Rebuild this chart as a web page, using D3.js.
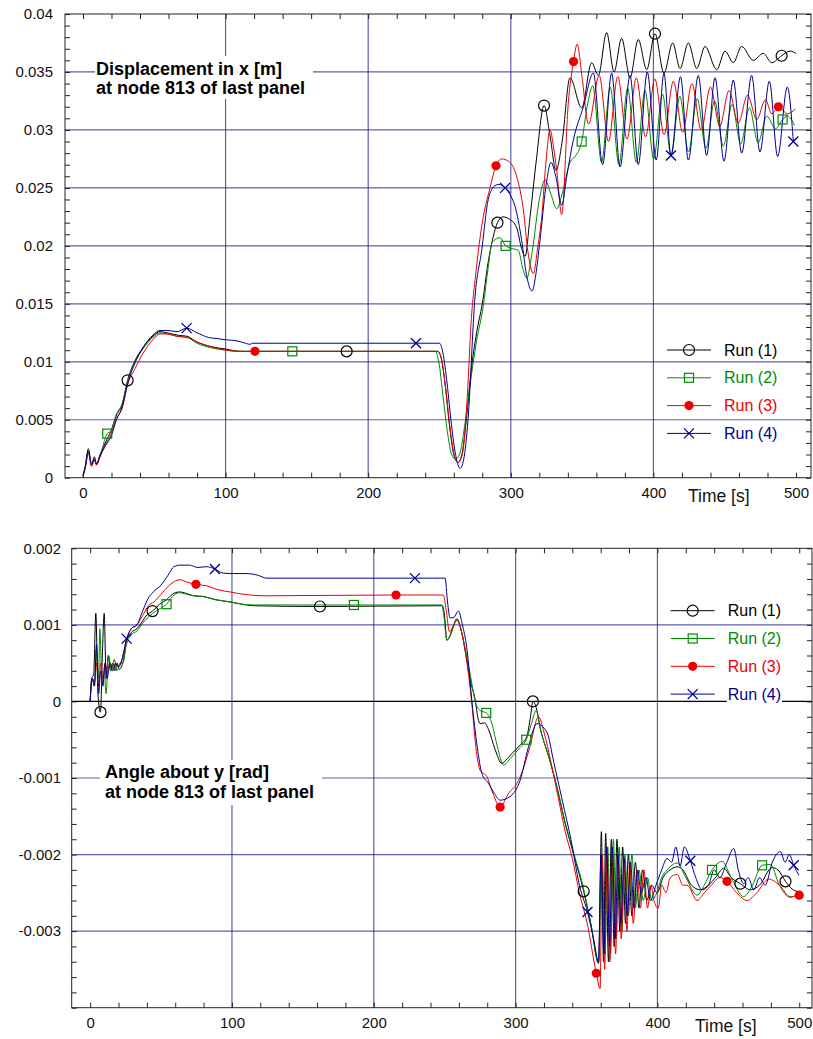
<!DOCTYPE html>
<html>
<head>
<meta charset="utf-8">
<script src="https://cdn.jsdelivr.net/npm/d3@7"></script>
<style>
  body { margin: 0; background: #fff; }
  svg { display: block; font-family: "Liberation Sans", Arial, Helvetica, sans-serif; }
</style>
</head>
<body>
<svg id="chart" width="813" height="1039"></svg>
<script>
// runs shared by both panels
const runNames = ["Run (1)", "Run (2)", "Run (3)", "Run (4)"];
const runColors = ["#000000", "#008a00", "#ee0000", "#000090"];
const runMarkers = ["circle", "square", "dot", "cross"];

const timeTicks = [0, 100, 200, 300, 400, 500];
const timeGrid = [100, 200, 300, 400];
const dispTicks = [0, 0.005, 0.01, 0.015, 0.02, 0.025, 0.03, 0.035, 0.04];
const angleTicks = [-0.003, -0.002, -0.001, 0, 0.001, 0.002];

// displacement in x [m], [time, value]
const dispRun1 = [[0,0.0002],[1.5,0.0009],[3.8,0.0025],[6,0.0011],[8,0.0018],[9.5,0.0012],[12,0.0020],[16,0.0031],[19.5,0.0040],[23.5,0.0054],[27.5,0.0063],[31.3,0.0084],[36.5,0.0101],[42,0.0112],[49,0.0122],[54,0.0126],[59,0.0125],[66,0.0123],[73,0.0122],[80,0.0117],[90,0.0113],[100,0.0111],[110,0.0109],[125,0.0109],[184.9,0.0109],[248.5,0.0109],[251,0.0104],[254,0.0080],[257,0.0045],[260,0.0020],[263,0.0013],[266,0.0022],[269,0.0052],[272,0.0090],[276,0.0125],[280,0.0150],[284,0.0185],[287.7,0.0208],[290.6,0.0220],[294.5,0.0225],[299,0.0223],[304,0.0216],[307.5,0.0198],[310,0.0191],[313.5,0.0225],[318,0.0275],[323.3,0.0321],[327.5,0.0295],[331.7,0.0265],[336,0.0290],[341.5,0.0345],[349.7,0.0319],[356.7,0.0358],[361.4,0.0347],[367.2,0.0384],[372.4,0.0350],[377.7,0.0379],[383.6,0.0345],[389.4,0.0378],[395.3,0.0352],[401.1,0.0383],[407.4,0.0349],[413.5,0.0375],[418.7,0.0353],[424.5,0.0375],[430.4,0.0353],[436.2,0.0372],[444.4,0.0352],[450.2,0.0368],[456,0.0358],[461.9,0.0372],[470,0.0360],[477,0.0366],[483,0.0358],[489.9,0.0364],[495.8,0.0368],[500,0.0366]];
const dispRun2 = [[0,0.0001],[1.5,0.0007],[3.8,0.0021],[6,0.0010],[8,0.0015],[9.5,0.0011],[12,0.0019],[17,0.0038],[19.5,0.0040],[23.5,0.0055],[27.5,0.0064],[31.3,0.0083],[36.5,0.0100],[42,0.0111],[49,0.0121],[54,0.0125],[59,0.0124],[66,0.0122],[73,0.0121],[80,0.0116],[90,0.0112],[100,0.0110],[110,0.0109],[125,0.0109],[146.8,0.0109],[247,0.0109],[249.5,0.0100],[252.5,0.0070],[255.5,0.0040],[258.5,0.0020],[261.5,0.0016],[264.5,0.0022],[268,0.0048],[272,0.0085],[276,0.0118],[280.7,0.0148],[284,0.0180],[287,0.0203],[292.4,0.0207],[296.4,0.0200],[300,0.0198],[305.3,0.0196],[308.5,0.0180],[311.2,0.0172],[315,0.0195],[320,0.0240],[324,0.0257],[328,0.0245],[332.2,0.0232],[336,0.0245],[341.5,0.0272],[345,0.0277],[349.7,0.0290],[353.5,0.0320],[357.5,0.0338],[363.6,0.0272],[369.7,0.0337],[375.8,0.0270],[381.9,0.0336],[388,0.0272],[394.1,0.0334],[400.2,0.0275],[406.3,0.0331],[412.4,0.0278],[418.5,0.0329],[424.6,0.0281],[430.7,0.0327],[436.8,0.0284],[442.9,0.0325],[449,0.0286],[455.1,0.0322],[461.2,0.0288],[467.3,0.0319],[473.4,0.0289],[479.5,0.0312],[485.6,0.0301],[490.6,0.0309],[494,0.0312],[499,0.0304]];
const dispRun3 = [[0,0.0001],[1.5,0.0008],[3.8,0.0022],[6,0.0010],[8,0.0016],[9.5,0.0011],[12,0.0018],[16,0.0029],[19.5,0.0037],[23.5,0.0051],[27.5,0.0060],[31.3,0.0080],[36.5,0.0094],[42,0.0107],[49,0.0119],[54,0.0124],[59,0.0124],[66,0.0122],[73,0.0121],[80,0.0117],[90,0.0113],[100,0.0110],[110,0.0109],[120.6,0.0109],[249,0.0109],[251.5,0.0102],[254.5,0.0075],[257.5,0.0042],[260.5,0.0019],[263,0.0013],[266,0.0020],[269,0.0060],[272.6,0.0142],[274.9,0.0170],[279.6,0.0217],[285.4,0.0250],[289.6,0.0269],[293.6,0.0275],[298.3,0.0273],[304.1,0.0260],[308.8,0.0231],[312,0.0195],[315.8,0.0176],[319,0.0200],[321.7,0.0225],[324.5,0.0270],[327.5,0.0300],[330,0.0285],[332.2,0.0265],[335.7,0.0227],[340.3,0.0323],[344,0.0359],[346.5,0.0374],[350,0.0345],[354.5,0.0305],[362,0.0347],[368.5,0.0290],[375,0.0346],[381.5,0.0292],[388,0.0345],[394.5,0.0294],[401,0.0344],[407.5,0.0296],[414,0.0342],[420.5,0.0298],[427,0.0340],[433.5,0.0300],[440,0.0337],[446.5,0.0303],[453,0.0334],[459.5,0.0306],[466,0.0330],[472.5,0.0309],[478.5,0.0326],[483,0.0314],[487.6,0.0320],[494,0.0314],[499.5,0.0318]];
const dispRun4 = [[0,0.0002],[1.5,0.0009],[3.8,0.0023],[6,0.0012],[8,0.0016],[9.5,0.0012],[12,0.0019],[16,0.0028],[19.5,0.0035],[23.5,0.0050],[27.5,0.0061],[31.3,0.0081],[36.5,0.0099],[42,0.0112],[49,0.0123],[54,0.0127],[59,0.0127],[66,0.0126],[72.7,0.0129],[80,0.0125],[88,0.0121],[94,0.0120],[100,0.0119],[108,0.0118],[114,0.0116],[117,0.0115],[119,0.0116],[233.5,0.0116],[250,0.0116],[252,0.0110],[255,0.0085],[258,0.0050],[261,0.0022],[264.5,0.0008],[267,0.0016],[270,0.0050],[274.9,0.0156],[279.6,0.0196],[284.2,0.0240],[288.9,0.0252],[291.5,0.0253],[296,0.0250],[300,0.0243],[303,0.0234],[307.6,0.0205],[311,0.0175],[315,0.0161],[317.5,0.0175],[320.5,0.0205],[324.5,0.0250],[328.2,0.0272],[331.5,0.0260],[335.7,0.0235],[339.5,0.0262],[343.8,0.0291],[350.9,0.0320],[357.9,0.0349],[364.4,0.0270],[370.7,0.0349],[376.6,0.0268],[383.6,0.0347],[389.4,0.0270],[395.7,0.0350],[402,0.0274],[407.4,0.0349],[412.3,0.0278],[419,0.0346],[424.5,0.0274],[431.5,0.0347],[437.3,0.0278],[443.2,0.0345],[449.5,0.0273],[456,0.0343],[461.9,0.0280],[468.9,0.0347],[474.7,0.0281],[481.3,0.0342],[487.1,0.0277],[493.9,0.0337],[498.1,0.0290]];
// times where a symbol sits on each run
const dispMarks1 = [31.3, 184.9, 290.6, 323.3, 401.1, 489.9];
const dispMarks2 = [17, 146.8, 296.4, 349.7, 490.6];
const dispMarks3 = [120.6, 289.6, 344, 487.6];
const dispMarks4 = [72.7, 233.5, 296, 412.3, 498.1];

// angle about y [rad], [time, value]
const angRun1 = [[0,0],[1,0.0003],[2.5,0.00035],[4,0.00115],[5.5,0.0001],[7.3,-0.00014],[8.6,0.0006],[9.9,0.00115],[11.3,0.0003],[12.8,0.0006],[14.5,0.0004],[16,0.0005],[17.5,0.0004],[19,0.0005],[20.5,0.00042],[23,0.0005],[25.7,0.0008],[29,0.0009],[33,0.00095],[37,0.00105],[40,0.00113],[44,0.00118],[49,0.00127],[54,0.00133],[58,0.0014],[63,0.00143],[68,0.00141],[73,0.00138],[80,0.00137],[88,0.00133],[98.6,0.0013],[107,0.00127],[115,0.00125],[162,0.00124],[248.5,0.00125],[250,0.0011],[251.5,0.0008],[253.5,0.00085],[256,0.00098],[258.6,0.00108],[262,0.0009],[265,0.0006],[268,0.00028],[271.5,0.00002],[273.5,-0.00022],[275,-0.00029],[278,-0.00028],[281,-0.00037],[285.6,-0.00063],[290.3,-0.00081],[294,-0.00075],[297.4,-0.00068],[303.2,-0.00057],[307.9,-0.00046],[310.5,-0.0002],[312.2,0.0],[314,-0.00005],[318,-0.0004],[323,-0.0007],[329,-0.00111],[335,-0.0016],[341,-0.002],[348,-0.00248],[353,-0.0029],[358.5,-0.00342],[360.5,-0.0017],[362,-0.0034],[363.5,-0.00172],[365.5,-0.0034],[367.5,-0.0018],[369.5,-0.0032],[371.5,-0.0018],[373.5,-0.003],[375.5,-0.0019],[377.5,-0.0029],[379.5,-0.002],[382,-0.0028],[384.5,-0.0021],[387,-0.0027],[389.5,-0.0022],[392.5,-0.0026],[396,-0.0024],[399.7,-0.0025],[404,-0.0023],[409,-0.0022],[413.9,-0.00216],[418,-0.0022],[424,-0.0024],[430.3,-0.00246],[436,-0.0024],[441,-0.0023],[446.7,-0.00218],[452,-0.0023],[458.5,-0.00238],[465.6,-0.00246],[472,-0.0024],[480.9,-0.00217],[485,-0.0022],[490.3,-0.00235],[495,-0.00245],[499.7,-0.00249]];
const angRun2 = [[0,0],[1.5,0.0003],[3,0.0002],[4.5,0.0007],[6,0.0003],[6.8,0.00095],[8.5,0.0002],[10,0.0004],[11.2,0.0001],[13,0.0006],[15,0.0004],[17,0.00055],[19,0.0004],[21,0.0005],[23,0.0005],[25.7,0.00075],[29,0.00087],[33,0.00092],[37,0.00102],[44,0.00115],[50,0.00122],[53.9,0.00127],[58,0.00137],[63,0.00142],[68,0.0014],[73,0.00138],[80,0.00137],[88,0.00133],[98.6,0.0013],[107,0.00127],[115,0.00126],[186,0.00126],[248,0.00126],[249.5,0.0011],[251.5,0.0008],[254,0.00086],[258.6,0.00107],[262,0.0009],[265.5,0.0006],[268.5,0.0003],[271.5,0.0],[275,-0.00012],[279.3,-0.00015],[283.3,-0.00029],[287,-0.00058],[291.5,-0.00083],[296,-0.00075],[303.2,-0.0006],[307.5,-0.0005],[311,-0.0003],[314.5,-0.00012],[318,-0.0004],[323,-0.0007],[329,-0.0011],[335,-0.00158],[341,-0.00198],[348,-0.00245],[353,-0.0029],[358.5,-0.0034],[361,-0.002],[363,-0.0033],[365,-0.0019],[367,-0.0033],[369,-0.0018],[371,-0.0031],[373,-0.0019],[375,-0.003],[377,-0.002],[379.5,-0.0028],[382,-0.002],[384.5,-0.0027],[387,-0.0022],[390,-0.0026],[393,-0.0023],[396,-0.0026],[399.5,-0.0025],[403,-0.0023],[406.8,-0.0022],[413.9,-0.00211],[420,-0.0023],[428,-0.00253],[433,-0.0024],[438.5,-0.0022],[445.6,-0.00209],[452,-0.0023],[460.8,-0.00255],[467,-0.0024],[473.8,-0.00214],[479.7,-0.00213],[486,-0.0024],[493.8,-0.00256],[499.5,-0.0025]];
const angRun3 = [[0,0],[1.5,0.0003],[3,0.00025],[4.5,0.0005],[6,0.0002],[7.5,0.0005],[9,0.0003],[10.5,0.0005],[12,0.0004],[14,0.0005],[16,0.00045],[18,0.0005],[20,0.00045],[22.5,0.00055],[25.7,0.0008],[29,0.00095],[33,0.001],[37,0.00112],[41,0.00125],[45,0.0013],[50,0.0014],[56,0.00152],[63.3,0.00159],[68,0.00156],[74.6,0.00153],[82,0.00151],[90,0.00146],[98.6,0.00143],[108,0.0014],[124.5,0.00138],[215.7,0.00139],[249,0.00139],[251,0.0012],[253.4,0.00091],[256,0.00098],[258.6,0.00106],[262,0.0009],[265,0.0006],[269.2,-0.00004],[272,-0.0006],[275,-0.0009],[279.7,-0.00098],[284,-0.0012],[289.1,-0.00138],[295,-0.0012],[301,-0.00107],[305,-0.0009],[310,-0.0006],[316.2,-0.0002],[320,-0.0004],[325,-0.0008],[330,-0.00125],[335,-0.0017],[340,-0.00205],[345,-0.0025],[350.5,-0.0029],[356.9,-0.00355],[359.6,-0.00375],[361,-0.002],[362.8,-0.0035],[364.5,-0.002],[366.5,-0.0034],[368.5,-0.002],[370.5,-0.0033],[372.5,-0.0021],[374.5,-0.0031],[376.5,-0.0021],[378.5,-0.003],[380.5,-0.0021],[383,-0.0029],[385.5,-0.0022],[388,-0.0027],[390.5,-0.0022],[393,-0.0027],[395.5,-0.0024],[397.5,-0.0026],[400.6,-0.0027],[403,-0.0024],[406,-0.0025],[409,-0.0023],[414,-0.00226],[418,-0.0024],[421,-0.0024],[428,-0.0026],[433,-0.0025],[438,-0.0024],[444,-0.0023],[449.1,-0.00235],[456,-0.0025],[463.2,-0.0026],[470,-0.0025],[478.5,-0.00232],[486,-0.0024],[493.8,-0.00255],[500,-0.00253]];
const angRun4 = [[0,0],[1.5,0.0003],[3,0.0002],[4.5,0.00075],[6,0.0001],[7.5,0.0004],[9,0.0002],[10.5,0.0005],[12,0.0003],[14,0.0005],[16,0.0004],[18,0.0005],[20,0.00045],[22.5,0.00055],[25.7,0.00082],[29,0.00095],[33,0.001],[37,0.00118],[41,0.00135],[44.5,0.00143],[50,0.00152],[55,0.00165],[59,0.00176],[63.3,0.00178],[70,0.00178],[76,0.00175],[82,0.00176],[88,0.00173],[93,0.00168],[98.6,0.00167],[110,0.00167],[118,0.00165],[124.5,0.00161],[229,0.00161],[250.3,0.00161],[252,0.0013],[253.8,0.00109],[256.5,0.0011],[259.7,0.00118],[262.5,0.001],[265.6,0.0007],[269.2,0.0],[273,-0.0006],[276.2,-0.00094],[280.9,-0.00107],[285,-0.0012],[289.1,-0.00129],[296.2,-0.00124],[303.2,-0.00103],[309,-0.0006],[315,-0.00029],[322,-0.0004],[327,-0.0008],[333,-0.0013],[339,-0.0018],[345,-0.0024],[350.7,-0.00275],[355,-0.0031],[358.5,-0.0034],[360.2,-0.002],[362.2,-0.0033],[364.2,-0.0019],[366.2,-0.0032],[368.2,-0.0019],[370.2,-0.0031],[372.2,-0.002],[374.2,-0.0029],[376.5,-0.00205],[378.8,-0.0028],[381,-0.0021],[383.5,-0.0027],[386,-0.0022],[388.5,-0.0025],[392,-0.0023],[395,-0.0026],[399,-0.0024],[403,-0.0022],[406.8,-0.00205],[410,-0.0021],[413,-0.0019],[416,-0.00215],[419,-0.0019],[423.2,-0.00208],[427,-0.0023],[431.5,-0.00246],[436,-0.0024],[440,-0.0022],[444,-0.0023],[449,-0.0021],[453.8,-0.00192],[457,-0.0022],[460.8,-0.00238],[464,-0.0023],[467.9,-0.00246],[472,-0.0023],[476,-0.0024],[481,-0.0021],[486.7,-0.00196],[490,-0.0021],[493,-0.002],[496.1,-0.00214],[499.7,-0.00227]];
const angMarks1 = [7.3, 44, 162, 312.2, 348, 458.5, 490.3];
const angMarks2 = [53.9, 186, 279.3, 307.5, 438.5, 473.8];
const angMarks3 = [74.6, 215.7, 289.1, 356.9, 449.1, 500];
const angMarks4 = [25.7, 88, 229, 350.7, 423.2, 496.1];

const panels = [
  {
    left: 65, right: 811, top: 14, bottom: 477.7,
    xDomain: [-12.6, 510.5], yDomain: [0, 0.04],
    yTicks: dispTicks, yMinorStep: 0.001, yGrid: dispTicks.slice(1, -1), zeroLine: false,
    runs: [dispRun1, dispRun2, dispRun3, dispRun4],
    marks: [dispMarks1, dispMarks2, dispMarks3, dispMarks4],
    title: ["Displacement in x [m]", "at node 813 of last panel"],
    titleX: 96, titleY: 74.5, titleGap: 19.5, titleBox: [95, 56, 218, 43],
    labelPad: 12, timeX: 688,
    legendX: 667, legendY: 350
  },
  {
    left: 71.7, right: 812, top: 548.3, bottom: 1007.7,
    xDomain: [-13, 509], yDomain: [-0.004, 0.002],
    yTicks: angleTicks, yMinorStep: 0.0002, yGrid: [-0.003, -0.002, -0.001, 0.001], zeroLine: true,
    runs: [angRun1, angRun2, angRun3, angRun4],
    marks: [angMarks1, angMarks2, angMarks3, angMarks4],
    title: ["Angle about y [rad]", "at node 813 of last panel"],
    titleX: 105, titleY: 778, titleGap: 20, titleBox: [100, 760, 222, 45],
    labelPad: 10.7, timeX: 695,
    legendX: 670.7, legendY: 610.7
  }
];

const svg = d3.select("#chart");
const gridColor = "#1a1a8c";
const fmt = d => d3.format("~g")(d).replace("\u2212", "-");

function drawMarker(g, type, cx, cy, color) {
  if (type === "circle") {
    g.append("circle").attr("cx", cx).attr("cy", cy).attr("r", 5.5)
      .attr("fill", "none").attr("stroke", color).attr("stroke-width", 1.2);
  } else if (type === "square") {
    g.append("rect").attr("x", cx - 4.5).attr("y", cy - 4.5).attr("width", 9).attr("height", 9)
      .attr("fill", "none").attr("stroke", color).attr("stroke-width", 1.2);
  } else if (type === "dot") {
    g.append("circle").attr("cx", cx).attr("cy", cy).attr("r", 4.6).attr("fill", color);
  } else {
    g.append("path").attr("d", `M${cx - 5},${cy - 5}L${cx + 5},${cy + 5}M${cx - 5},${cy + 5}L${cx + 5},${cy - 5}`)
      .attr("stroke", color).attr("stroke-width", 1.3);
  }
}

panels.forEach(p => {
  const x = d3.scaleLinear().domain(p.xDomain).range([p.left, p.right]);
  const y = d3.scaleLinear().domain(p.yDomain).range([p.bottom, p.top]);
  const g = svg.append("g");
  const h = p.bottom - p.top, w = p.right - p.left;

  // grid
  g.append("g").selectAll("line").data(timeGrid).join("line")
    .attr("x1", d => x(d)).attr("x2", d => x(d)).attr("y1", p.top).attr("y2", p.bottom)
    .attr("stroke", gridColor).attr("stroke-opacity", 0.7).attr("stroke-width", 1.2);
  g.append("g").selectAll("line").data(p.yGrid).join("line")
    .attr("x1", p.left).attr("x2", p.right).attr("y1", d => y(d)).attr("y2", d => y(d))
    .attr("stroke", gridColor).attr("stroke-opacity", 0.7).attr("stroke-width", 1.2);
  if (p.zeroLine) {
    g.append("line").attr("x1", p.left).attr("x2", p.right).attr("y1", y(0)).attr("y2", y(0))
      .attr("stroke", "#000").attr("stroke-width", 1.3);
  }

  // title with white box
  const [bx, by, bw, bh] = p.titleBox;
  g.append("rect").attr("x", bx).attr("y", by).attr("width", bw).attr("height", bh).attr("fill", "#fff");
  p.title.forEach((t, i) => {
    g.append("text").attr("x", p.titleX).attr("y", p.titleY + i * p.titleGap)
      .attr("font-size", 18).attr("font-weight", "bold").attr("fill", "#000").text(t);
  });

  // curves
  const line = d3.line().x(d => x(d[0])).y(d => y(d[1])).curve(d3.curveMonotoneX);
  p.runs.forEach((run, i) => {
    g.append("path").datum(run).attr("d", line)
      .attr("fill", "none").attr("stroke", runColors[i]).attr("stroke-width", 1);
  });
  p.runs.forEach((run, i) => {
    const mg = g.append("g");
    p.marks[i].forEach(t => {
      const pt = run[d3.minIndex(run, d => Math.abs(d[0] - t))];
      drawMarker(mg, runMarkers[i], x(pt[0]), y(pt[1]), runColors[i]);
    });
  });

  // frame and inward ticks
  g.append("rect").attr("x", p.left).attr("y", p.top).attr("width", w).attr("height", h)
    .attr("fill", "none").attr("stroke", "#222").attr("stroke-width", 1);
  const xMinor = d3.range(0, 501, 20);
  const yMinor = d3.range(p.yDomain[0], p.yDomain[1] + p.yMinorStep / 2, p.yMinorStep);
  const tickStyle = sel => { sel.select(".domain").remove(); sel.selectAll("line").attr("stroke", "#222"); };
  g.append("g").attr("transform", `translate(0,${p.bottom})`)
    .call(d3.axisBottom(x).tickValues(xMinor).tickSize(-5).tickFormat("")).call(tickStyle);
  g.append("g").attr("transform", `translate(0,${p.top})`)
    .call(d3.axisTop(x).tickValues(xMinor).tickSize(-5).tickFormat("")).call(tickStyle);
  g.append("g").attr("transform", `translate(${p.left},0)`)
    .call(d3.axisLeft(y).tickValues(yMinor).tickSize(-5).tickFormat("")).call(tickStyle);
  g.append("g").attr("transform", `translate(${p.right},0)`)
    .call(d3.axisRight(y).tickValues(yMinor).tickSize(-5).tickFormat("")).call(tickStyle);

  // labels
  const xl = g.append("g").attr("transform", `translate(0,${p.bottom})`)
    .call(d3.axisBottom(x).tickValues(timeTicks).tickSize(0).tickPadding(9.7).tickFormat(d3.format("d")));
  xl.select(".domain").remove();
  xl.selectAll("text").attr("font-size", 15).attr("font-family", null).attr("fill", "#111");
  const yl = g.append("g").attr("transform", `translate(${p.left},0)`)
    .call(d3.axisLeft(y).tickValues(p.yTicks).tickSize(0).tickPadding(p.labelPad).tickFormat(fmt));
  yl.select(".domain").remove();
  yl.selectAll("text").attr("font-size", 15).attr("font-family", null).attr("fill", "#111");
  g.append("text").attr("x", p.timeX).attr("y", p.bottom + 24).attr("font-size", 17.5)
    .attr("fill", "#111").text("Time [s]");

  // legend
  runNames.forEach((name, i) => {
    const ly = p.legendY + i * 27.8;
    g.append("line").attr("x1", p.legendX).attr("x2", p.legendX + 44).attr("y1", ly).attr("y2", ly)
      .attr("stroke", runColors[i]).attr("stroke-width", 1);
    drawMarker(g, runMarkers[i], p.legendX + 22, ly, runColors[i]);
    const bg = g.append("rect").attr("fill", "#fff");
    const tx = g.append("text").attr("x", p.legendX + 57).attr("y", ly + 5.5).attr("font-size", 16)
      .attr("fill", runColors[i]).text(name);
    const tw = tx.node().getComputedTextLength();
    bg.attr("x", p.legendX + 56).attr("y", ly - 9).attr("width", tw + 2).attr("height", 19);
  });
});
</script>
</body>
</html>
